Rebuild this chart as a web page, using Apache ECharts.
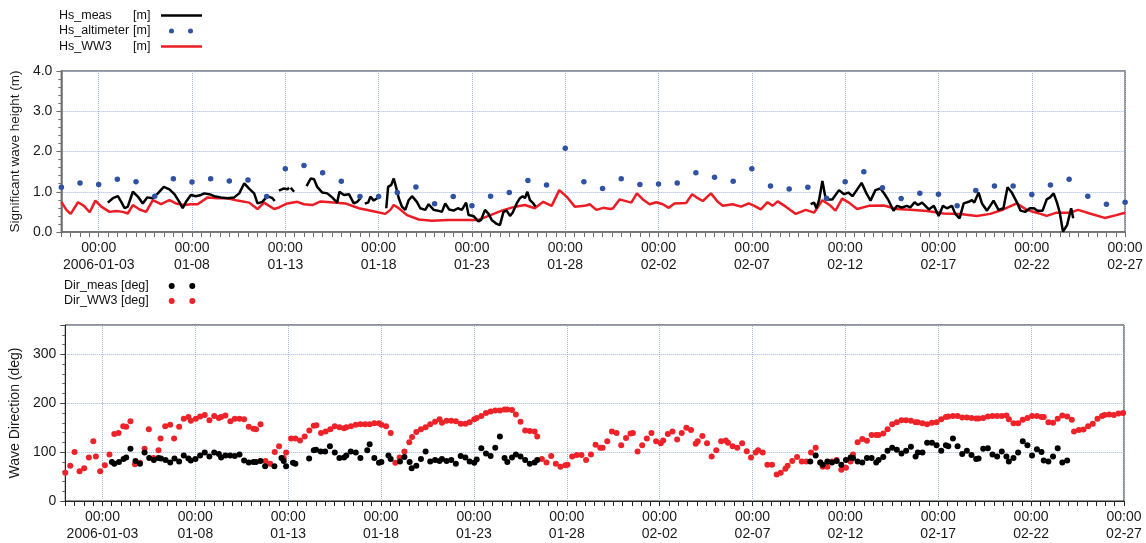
<!DOCTYPE html>
<html>
<head>
<meta charset="utf-8">
<title>Hs and wave direction</title>
<script src="https://cdn.jsdelivr.net/npm/echarts@6.0.0/dist/echarts.min.js"></script>
<style>
  html, body { margin: 0; padding: 0; background: #fff; }
  #chart { width: 1146px; height: 543px; }
</style>
</head>
<body>
<div id="chart"></div>
<script>
// time is in days since 2006-01-01 00:00
var tickDays = [2, 7, 12, 17, 22, 27, 32, 37, 42, 47, 52, 57];
var tickLabels = ["2006-01-03", "01-08", "01-13", "01-18", "01-23", "01-28",
  "02-02", "02-07", "02-12", "02-17", "02-22", "02-27"];

// Hs_WW3 (model)
var ww3Day = [0, 0.27, 0.5, 0.89, 1.21, 1.52, 1.82, 2.14, 2.58, 2.94, 3.3, 3.56, 3.83, 4.19, 4.54, 4.9,
  5.34, 5.79, 6.14, 6.59, 6.94, 7.3, 7.84, 8.37, 8.9, 9.44, 10.06, 10.51, 10.86, 11.4, 11.66, 12.11,
  12.64, 13, 13.45, 13.89, 14.42, 15.22, 15.94, 16.65, 17.36, 17.63, 17.81, 18.08, 18.52, 19.15,
  19.86, 20.75, 21.63, 22.35, 22.89, 23.6, 24.31, 24.84, 25.37, 25.82, 26.27, 26.68, 27.07, 27.51,
  28.04, 28.31, 28.67, 29.03, 29.43, 29.56, 29.91, 30.54, 30.84, 31.16, 31.52, 31.88, 32.23, 32.55,
  32.85, 33.48, 33.8, 34.1, 34.37, 34.81, 35.17, 35.44, 35.97, 36.42, 36.83, 37.13, 37.48, 37.84,
  38.11, 38.38, 38.82, 39.35, 39.89, 40.33, 40.78, 41.22, 41.48, 41.84, 42.2, 42.64, 43.27, 44.06,
  44.78, 45.49, 46.38, 47.27, 48.16, 49.05, 49.77, 50.48, 51.19, 51.73, 52.26, 52.8, 53.33, 54.04,
  54.49, 55.11, 55.91, 56.53, 57];
var ww3Hs = [0.75, 0.55, 0.45, 0.74, 0.65, 0.49, 0.78, 0.63, 0.5, 0.52, 0.5, 0.46, 0.67, 0.56, 0.5, 0.79,
  0.69, 0.79, 0.71, 0.67, 0.69, 0.69, 0.86, 0.84, 0.84, 0.78, 0.73, 0.57, 0.73, 0.57, 0.61, 0.71,
  0.75, 0.69, 0.67, 0.76, 0.74, 0.71, 0.59, 0.52, 0.45, 0.55, 0.67, 0.59, 0.42, 0.31,
  0.28, 0.3, 0.3, 0.3, 0.4, 0.53, 0.63, 0.67, 0.59, 0.75, 0.65, 1.04, 0.88, 0.63,
  0.65, 0.69, 0.55, 0.6, 0.57, 0.59, 0.81, 0.73, 0.96, 0.81, 0.69, 0.74, 0.69, 0.6,
  0.71, 0.72, 0.94, 0.84, 0.77, 0.96, 0.75, 0.65, 0.69, 0.63, 0.71, 0.65, 0.56, 0.74,
  0.65, 0.76, 0.63, 0.45, 0.55, 0.48, 0.79, 0.65, 0.53, 0.83, 0.73, 0.57, 0.65, 0.66,
  0.57, 0.55, 0.52, 0.46, 0.45, 0.4, 0.45, 0.56, 0.71, 0.55, 0.48, 0.4, 0.48, 0.48,
  0.55, 0.46, 0.35, 0.42, 0.48];

// Hs_meas (buoy), null = no data
var measDay = [2.49, 2.76, 3.03, 3.21, 3.39, 3.56, 3.83, 4.1, 4.36, 4.6, 4.9, 5.17, 5.49, 5.79, 6.06,
  6.32, 6.5, 6.68, 6.94, 7.21, 7.48, 7.66, 7.93, 8.19, 8.55, 8.9, 9.26, 9.53, 9.8, 10.06, 10.33,
  10.51, 10.77, 11.04, 11.31, 11.43, 11.55, 11.66, 11.9, 12.11, 12.2, 12.25, 12.29, 12.47, 12.8,
  13.14, 13.36, 13.54, 13.71, 13.98, 14.25, 14.51, 14.78, 14.9, 15.14, 15.41, 15.67, 15.85, 16.03,
  16.15, 16.26, 16.44, 16.56, 16.74, 16.92, 17.09, 17.25, 17.41, 17.51, 17.68, 17.81, 17.93, 18.08,
  18.25, 18.43, 18.61, 18.79, 19.05, 19.23, 19.5, 19.68, 19.95, 20.18, 20.39, 20.57, 20.78, 21.02,
  21.25, 21.46, 21.69, 21.82, 22.08, 22.35, 22.49, 22.7, 22.89, 23.06, 23.33, 23.5, 23.69, 23.86,
  24.04, 24.18, 24.4, 24.57, 24.72, 24.84, 24.97, 25.11, 25.29, 25.41, 30,
  40.15, 40.33, 40.46, 40.6, 40.78, 40.96, 41.31, 41.67, 41.94, 42.17, 42.39, 42.62, 42.88, 43.14,
  43.36, 43.62, 43.89, 44.1, 44.32, 44.59, 44.78, 45.04, 45.31, 45.49, 45.72, 45.9, 46.12, 46.3,
  46.48, 46.75, 47.01, 47.24, 47.45, 47.72, 47.9, 48.13, 48.35, 48.62, 48.79, 48.92, 49.15, 49.33,
  49.6, 49.77, 49.95, 50.22, 50.48, 50.7, 50.93, 51.19, 51.4, 51.64, 51.9, 52.12, 52.3, 52.58,
  52.8, 52.98, 53.17, 53.35, 53.5, 53.67, 53.89, 54.11, 54.22];
var measHs = [0.73, 0.84, 0.89, 0.75, 0.59, 0.63, 1.0, 0.88, 0.71, 0.86, 0.84, 0.96, 1.12, 1.06, 0.94,
  0.75, 0.59, 0.75, 0.92, 0.89, 0.92, 0.96, 0.94, 0.89, 0.86, 0.84, 0.86, 0.96, 1.21, 1.08, 0.96,
  0.71, 0.75, 0.89, 0.84, 0.77, null, 1.03, 1.08, 1.06, 1.1, null, 1.1, 1.0, null,
  1.14, 1.33, 1.31, 1.12, 0.98, 0.96, 0.86, 0.73, 1.0, 0.92, 0.94, 0.71, 0.75, 0.84,
  null, 0.71, 0.73, 0.88, 0.78, 0.84, 0.89, null, 0.59, 1.12, 1.17, 1.33, 1.12, 0.84,
  0.63, 0.55, 0.79, 0.89, 0.75, 0.59, 0.55, 0.69, 0.55, 0.53, 0.5, 0.71, 0.56, 0.53,
  0.59, 0.55, 0.73, 0.42, 0.4, 0.26, 0.3, 0.55, 0.45, 0.3, 0.2, 0.17, 0.5, 0.53,
  0.4, 0.48, 0.71, 0.84, 0.89, 0.84, 1.0, 0.79, 0.71, 0.63, null,
  0.69, 0.73, 0.59, 0.79, 1.27, 0.81, 0.81, 1.04, 0.94, 0.98, 0.89, 1.04, 1.22, 0.96,
  0.78, 1.04, 1.08, 0.95, 0.79, 0.53, 0.65, 0.61, 0.65, 0.61, 0.74, 0.67, 0.73, 0.65,
  0.56, 0.65, 0.4, 0.65, 0.59, 0.65, 0.45, 0.34, 0.71, 0.75, 0.79, 0.73, 0.98, 0.71,
  0.53, 0.65, 0.78, 0.55, 0.59, 1.11, 0.98, 0.75, 0.53, 0.5, 0.59, 0.59, 0.53, 0.53,
  0.81, 0.86, 0.96, 0.73, 0.48, 0.01, 0.17, 0.59, 0.34];

// Hs_altimeter (one pass per day)
var altDay = [0, 1, 2, 3, 4, 5, 6, 7, 8, 9, 10, 11, 12, 13, 14, 15, 16, 17, 18, 19, 20, 21, 22, 23, 24,
  25, 26, 27, 28, 29, 30, 31, 32, 33, 34, 35, 36, 37, 38, 39, 40, 41, 42, 43, 44, 45, 46, 47, 48, 49,
  50, 51, 52, 53, 54, 55, 56, 57];
var altHs = [1.11, 1.22, 1.18, 1.31, 1.25, 0.89, 1.32, 1.24, 1.32, 1.27, 1.29, 0.88, 1.57, 1.65, 1.47,
  1.26, 0.88, 0.88, 0.98, 1.12, 0.7, 0.88, 0.65, 0.89, 0.98, 1.28, 1.17, 2.08, 1.25, 1.08, 1.32,
  1.18, 1.19, 1.22, 1.47, 1.36, 1.26, 1.57, 1.14, 1.07, 1.11, 0.84, 1.25, 1.5, 1.1, 0.83, 0.96,
  0.94, 0.65, 1.03, 1.14, 1.14, 0.93, 1.17, 1.31, 0.89, 0.69, 0.74];

// Dir_WW3
var dirWw3Day = [0, 0.27, 0.5, 0.77, 1.02, 1.27, 1.51, 1.65, 1.88, 2.13, 2.38, 2.64, 2.87, 3.12, 3.28,
  3.51, 3.75, 4.02, 4.27, 4.5, 4.75, 5.02, 5.13, 5.38, 5.65, 5.86, 6.13, 6.38, 6.63, 6.76, 7.03,
  7.26, 7.51, 7.76, 8.02, 8.27, 8.39, 8.62, 8.89, 9.13, 9.38, 9.63, 9.88, 10.13, 10.27, 10.51,
  10.78, 11.03, 11.28, 11.51, 11.76, 11.89, 12.16, 12.39, 12.64, 12.89, 13.14, 13.38, 13.52, 13.77,
  14.02, 14.27, 14.51, 14.76, 15.01, 15.13, 15.38, 15.64, 15.89, 16.14, 16.39, 16.64, 16.89, 17.02,
  17.27, 17.52, 17.77, 18, 18.26, 18.52, 18.67, 18.9, 19.15, 19.4, 19.65, 19.91, 20.15, 20.28,
  20.53, 20.78, 21.03, 21.29, 21.54, 21.77, 22.02, 22.15, 22.4, 22.65, 22.9, 23.15, 23.4, 23.65,
  23.8, 24.05, 24.26, 24.51, 24.76, 25.01, 25.27, 25.41, 25.66, 25.91, 26.16, 26.41, 26.66, 26.92,
  27.04, 27.29, 27.54, 27.79, 28.04, 28.3, 28.55, 28.8, 28.93, 29.18, 29.43, 29.68, 29.93, 30.19,
  30.43, 30.56, 30.81, 31.06, 31.31, 31.56, 31.81, 32.06, 32.19, 32.44, 32.69, 32.94, 33.19, 33.44,
  33.69, 33.94, 34.05, 34.3, 34.55, 34.8, 35.05, 35.31, 35.56, 35.68, 35.93, 36.18, 36.44, 36.69,
  36.92, 37.17, 37.3, 37.55, 37.8, 38.05, 38.3, 38.52, 38.77, 38.89, 39.14, 39.4, 39.65, 39.9,
  40.15, 40.4, 40.65, 40.78, 41.03, 41.28, 41.53, 41.78, 42.03, 42.28, 42.41, 42.66, 42.91, 43.16,
  43.41, 43.66, 43.79, 44.04, 44.27, 44.52, 44.77, 45.02, 45.27, 45.53, 45.78, 45.9, 46.15, 46.4,
  46.66, 46.91, 47.16, 47.41, 47.54, 47.79, 48.04, 48.29, 48.54, 48.79, 49.04, 49.17, 49.42, 49.67,
  49.92, 50.17, 50.42, 50.67, 50.8, 51.05, 51.3, 51.55, 51.8, 52.05, 52.31, 52.56, 52.68, 52.93,
  53.18, 53.43, 53.68, 53.94, 54.19, 54.31, 54.57, 54.82, 55.07, 55.32, 55.57, 55.82, 55.95, 56.2,
  56.45, 56.7, 56.95];
var dirWw3Deg = [58, 72, 100, 61, 67, 89, 122, 91, 61, 73, 95, 137, 139, 153, 152,
  163, 75, 78, 107, 147, 88, 104, 128, 153, 156, 128, 152, 168, 172, 164, 168,
  173, 176, 165, 174, 170, 172, 175, 163, 168, 168, 167, 152, 148, 147, 157,
  82, 76, 100, 112, 88, 99, 128, 128, 124, 132, 144, 154, 155, 139,
  142, 147, 153, 151, 149, 151, 153, 156, 157, 157, 157, 159, 159, 156,
  153, 139, 78, 89, 101, 120, 131, 141, 147, 151, 157, 162, 167, 160,
  164, 164, 163, 158, 158, 161, 167, 170, 174, 180, 183, 185, 185, 187,
  187, 186, 177, 162, 144, 143, 142, 132, 86, 79, 92, 76, 70, 73,
  74, 91, 94, 94, 84, 95, 115, 109, 109, 122, 142, 139, 114, 129,
  138, 139, 101, 114, 128, 139, 122, 118, 124, 137, 142, 126, 139, 150,
  145, 117, 122, 133, 118, 91, 104, 122, 124, 119, 112, 109, 118, 102,
  89, 99, 104, 99, 74, 74, 54, 58, 66, 72, 82, 90, 81, 81,
  99, 109, 79, 70, 70, 81, 84, 64, 68, 81, 95, 120, 127, 123,
  135, 135, 135, 138, 147, 157, 161, 165, 165, 164, 161, 161, 159, 157,
  160, 161, 167, 172, 173, 174, 174, 171, 171, 170, 169, 169, 170, 173,
  174, 174, 174, 175, 167, 159, 159, 166, 170, 174, 174, 172, 172, 161,
  160, 168, 175, 173, 166, 142, 145, 146, 153, 158, 168, 174, 176, 177,
  176, 179, 180];

// Dir_meas
var dirMeasDay = [2.51, 2.64, 2.89, 3.14, 3.28, 3.51, 3.78, 4.02, 4.27, 4.52, 4.77, 5.02, 5.15, 5.4,
  5.65, 5.88, 6.13, 6.38, 6.63, 6.76, 7.01, 7.26, 7.51, 7.76, 8.02, 8.27, 8.39, 8.62, 8.88, 9.13,
  9.38, 9.63, 9.88, 10.13, 10.27, 10.51, 10.76, 11.26, 11.64, 11.76, 11.89, 12.26, 12.39, 13.13,
  13.38, 13.5, 13.75, 13.99, 14.25, 14.51, 14.76, 15.01, 15.13, 15.37, 15.64, 15.89, 16.26, 16.39,
  16.64, 16.89, 17.02, 17.4, 17.52, 18.02, 18.26, 18.54, 18.65, 18.9, 19.15, 19.4, 19.65, 19.91,
  20.15, 20.28, 20.53, 20.78, 21.03, 21.29, 21.54, 21.77, 22.02, 22.15, 22.4, 22.65, 22.9, 23.15,
  23.4, 23.65, 23.8, 24.05, 24.26, 24.51, 24.76, 25.01, 25.27, 25.41,
  40.11, 40.4, 40.65, 40.78, 41.03, 41.28, 41.53, 41.78, 42.03, 42.28, 42.41, 42.66, 42.91, 43.16,
  43.41, 43.66, 43.79, 44.04, 44.27, 44.52, 44.77, 45.02, 45.27, 45.53, 45.78, 45.9, 46.15, 46.4,
  46.66, 46.91, 47.16, 47.41, 47.54, 47.79, 48.04, 48.29, 48.54, 48.79, 49.04, 49.17, 49.42, 49.67,
  49.92, 50.17, 50.42, 50.67, 50.8, 51.05, 51.3, 51.55, 51.8, 52.05, 52.31, 52.56, 52.68, 52.93,
  53.18, 53.43, 53.68, 53.94];
var dirMeasDeg = [80, 76, 80, 86, 89, 107, 82, 76, 99, 88, 84, 88, 87, 84,
  79, 87, 81, 93, 87, 83, 86, 93, 99, 91, 99, 96, 89, 93, 93, 92,
  95, 83, 79, 80, 80, 82, 71, 71, 88, 82, 71, 78, 76, 87,
  104, 105, 101, 101, 112, 99, 88, 89, 93, 101, 99, 88, 104, 116,
  88, 78, 80, 93, 86, 81, 90, 80, 67, 72, 86, 101, 81, 84,
  82, 86, 82, 84, 76, 92, 89, 81, 78, 85, 108, 97, 92, 109,
  132, 88, 80, 89, 95, 91, 84, 76, 79, 84,
  81, 93, 79, 74, 81, 79, 82, 74, 84, 89, 88, 81, 79, 88,
  88, 79, 84, 90, 103, 109, 105, 97, 103, 111, 91, 99, 99, 119,
  119, 114, 103, 114, 112, 128, 112, 96, 103, 94, 86, 87, 107, 108,
  95, 91, 101, 91, 81, 88, 99, 122, 114, 93, 106, 100, 83, 81,
  91, 108, 79, 83];

function zip(xs, ys) {
  return xs.map(function (x, i) { return [x, ys[i]]; });
}

var font = "'Liberation Sans', Arial, sans-serif";
var gridColor = "#9fb6dc";

// legend icons: corner points pin the icon box to itemWidth x itemHeight
var lineIcon = "path://M0,0L0,0M41,14L41,14M0,5.8L41,5.8L41,8.2L0,8.2Z";
var dotsIconSmall = "path://M0,0L0,0M41,14L41,14M8,7A2.5,2.5,0,1,1,13,7A2.5,2.5,0,1,1,8,7ZM27,7A2.5,2.5,0,1,1,32,7A2.5,2.5,0,1,1,27,7Z";
var dotsIcon = "path://M0,0L0,0M41,14L41,14M7.7,7A3,3,0,1,1,13.7,7A3,3,0,1,1,7.7,7ZM28.3,7A3,3,0,1,1,34.3,7A3,3,0,1,1,28.3,7Z";

function dayLabel(v) {
  var i = tickDays.indexOf(v);
  return i < 0 ? "" : "00:00\n" + tickLabels[i];
}

function xAxisFor(gridIndex, axisColor, axisWidth) {
  return {
    type: "value",
    gridIndex: gridIndex,
    min: 0,
    max: 57,
    interval: 0.5,
    axisLine: { show: true, lineStyle: { color: axisColor, width: axisWidth } },
    axisTick: { show: true, length: 5, lineStyle: { color: axisColor } },
    axisLabel: {
      formatter: dayLabel,
      showMinLabel: true,
      showMaxLabel: true,
      margin: 8,
      fontFamily: font,
      fontSize: 14,
      lineHeight: 17,
      color: "#1a1a1a"
    },
    splitLine: { show: false }
  };
}

// vertical dotted grid at the labelled days, kept under the data
function vGrid() {
  return {
    silent: true,
    z: 0,
    symbol: ["none", "none"],
    label: { show: false },
    lineStyle: { type: "dotted", color: gridColor, width: 1 },
    data: tickDays.map(function (d) { return { xAxis: d }; })
  };
}

function richToken(width) {
  return { width: width, align: "left", fontFamily: font, fontSize: 12.5, color: "#111" };
}

var chart = echarts.init(document.getElementById("chart"));

chart.setOption({
  animation: false,
  backgroundColor: "#ffffff",
  textStyle: { fontFamily: font },
  grid: [
    { left: 58, right: 19, top: 71, height: 161, show: true, borderColor: "#6e6e6e", borderWidth: 1.5 },
    { left: 64, right: 22, top: 325, height: 177, show: true, borderColor: "#222", borderWidth: 1 }
  ],
  legend: [
    {
      orient: "vertical",
      left: 59,
      top: 8.5,
      padding: 0,
      align: "right",
      itemWidth: 41,
      itemHeight: 14,
      itemGap: 1.5,
      selectedMode: false,
      data: [
        { name: "Hs_meas", icon: lineIcon, itemStyle: { color: "#000000", borderWidth: 0 } },
        { name: "Hs_altimeter", icon: dotsIconSmall, itemStyle: { color: "#2f52a2", borderWidth: 0 } },
        { name: "Hs_WW3", icon: lineIcon, itemStyle: { color: "#ec1c24", borderWidth: 0 } }
      ],
      formatter: function (name) { return "{n|" + name + "}{u|[m]}"; },
      textStyle: {
        fontFamily: font,
        fontSize: 12.5,
        color: "#111",
        rich: { n: richToken(74), u: richToken(23) }
      }
    },
    {
      orient: "vertical",
      left: 64,
      top: 279,
      padding: 0,
      align: "right",
      itemWidth: 41,
      itemHeight: 14,
      itemGap: 1,
      selectedMode: false,
      data: [
        { name: "Dir_meas [deg]", icon: dotsIcon, itemStyle: { color: "#000000", borderWidth: 0 } },
        { name: "Dir_WW3 [deg]", icon: dotsIcon, itemStyle: { color: "#ee2229", borderWidth: 0 } }
      ],
      formatter: function (name) { return "{n|" + name + "}"; },
      textStyle: {
        fontFamily: font,
        fontSize: 12.5,
        color: "#111",
        rich: { n: richToken(92) }
      }
    }
  ],
  xAxis: [xAxisFor(0, "#6e6e6e", 1.5), xAxisFor(1, "#222", 1)],
  yAxis: [
    {
      type: "value",
      gridIndex: 0,
      min: 0,
      max: 4,
      interval: 1,
      name: "Significant wave height (m)",
      nameLocation: "middle",
      nameGap: 37,
      nameTextStyle: { fontFamily: font, fontSize: 13.5, color: "#1a1a1a" },
      axisLine: { show: true, lineStyle: { color: "#6e6e6e", width: 1.5 } },
      axisTick: { show: true, length: 5, lineStyle: { color: "#6e6e6e" } },
      minorTick: { show: true, splitNumber: 5, length: 3, lineStyle: { color: "#6e6e6e" } },
      axisLabel: {
        formatter: function (v) { return v.toFixed(1); },
        margin: 9,
        fontFamily: font,
        fontSize: 14,
        color: "#1a1a1a"
      },
      splitLine: { show: true, lineStyle: { type: "dotted", color: gridColor, width: 1 } }
    },
    {
      type: "value",
      gridIndex: 1,
      min: 0,
      max: 360,
      interval: 100,
      name: "Wave Direction (deg)",
      nameLocation: "middle",
      nameGap: 43,
      nameTextStyle: { fontFamily: font, fontSize: 14, color: "#1a1a1a" },
      axisLine: { show: true, lineStyle: { color: "#222", width: 1 } },
      axisTick: { show: true, length: 5, lineStyle: { color: "#444" } },
      minorTick: { show: true, splitNumber: 5, length: 3, lineStyle: { color: "#666" } },
      axisLabel: {
        formatter: function (v) { return v > 300 ? "" : String(v); },
        margin: 9,
        fontFamily: font,
        fontSize: 14,
        color: "#1a1a1a"
      },
      splitLine: { show: true, lineStyle: { type: "dotted", color: gridColor, width: 1 } }
    }
  ],
  series: [
    {
      name: "Hs_WW3",
      type: "line",
      xAxisIndex: 0,
      yAxisIndex: 0,
      symbol: "none",
      showSymbol: false,
      color: "#ec1c24",
      lineStyle: { color: "#ec1c24", width: 2.5 },
      data: zip(ww3Day, ww3Hs),
      markLine: vGrid(),
      z: 2
    },
    {
      name: "Hs_meas",
      type: "line",
      xAxisIndex: 0,
      yAxisIndex: 0,
      symbol: "none",
      showSymbol: false,
      connectNulls: false,
      color: "#000000",
      lineStyle: { color: "#000000", width: 2.5 },
      data: zip(measDay, measHs),
      z: 3
    },
    {
      name: "Hs_altimeter",
      type: "scatter",
      xAxisIndex: 0,
      yAxisIndex: 0,
      symbol: "circle",
      symbolSize: 5.5,
      itemStyle: { color: "#2f52a2", opacity: 1 },
      data: zip(altDay, altHs),
      z: 4
    },
    {
      name: "Dir_WW3 [deg]",
      type: "scatter",
      xAxisIndex: 1,
      yAxisIndex: 1,
      symbol: "circle",
      symbolSize: 6,
      itemStyle: { color: "#ee2229", opacity: 1 },
      data: zip(dirWw3Day, dirWw3Deg),
      markLine: vGrid(),
      z: 2
    },
    {
      name: "Dir_meas [deg]",
      type: "scatter",
      xAxisIndex: 1,
      yAxisIndex: 1,
      symbol: "circle",
      symbolSize: 6,
      itemStyle: { color: "#000000", opacity: 1 },
      data: zip(dirMeasDay, dirMeasDeg),
      z: 3
    }
  ]
});
</script>
</body>
</html>
